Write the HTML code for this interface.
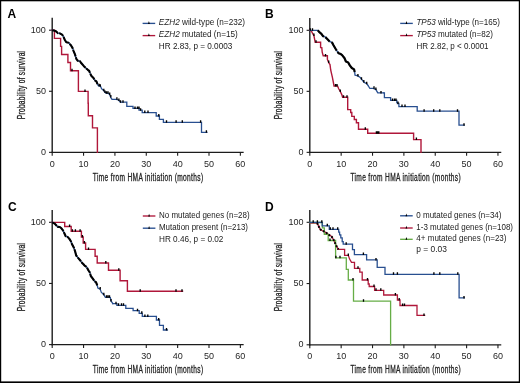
<!DOCTYPE html><html><head><meta charset="utf-8"><style>html,body{margin:0;padding:0;background:#fff}svg{display:block;will-change:transform}.tk{font-family:"Liberation Sans", sans-serif;font-size:9px;fill:#262626}.ti{font-family:"Liberation Sans", sans-serif;font-size:10px;fill:#222;stroke:#222;stroke-width:0.3px}.lg{font-family:"Liberation Sans", sans-serif;font-size:8.2px;fill:#222}.lb{font-family:"Liberation Sans", sans-serif;font-size:12px;font-weight:bold;fill:#000}</style></head><body>
<svg width="520" height="383" viewBox="0 0 520 383">
<rect x="0" y="0" width="520" height="383" fill="#fff"/>
<path d="M52.20 17.80V153.05" stroke="#1c1c1c" stroke-width="1.4" fill="none"/>
<path d="M51.50 152.35H243.66" stroke="#1c1c1c" stroke-width="1.3" fill="none"/>
<path d="M49.00 30.20H52.20" stroke="#1c1c1c" stroke-width="1.1" fill="none"/>
<path d="M49.00 91.27H52.20" stroke="#1c1c1c" stroke-width="1.1" fill="none"/>
<path d="M49.00 152.35H52.20" stroke="#1c1c1c" stroke-width="1.1" fill="none"/>
<path d="M52.20 152.35V155.75" stroke="#1c1c1c" stroke-width="1.1" fill="none"/>
<path d="M83.56 152.35V155.75" stroke="#1c1c1c" stroke-width="1.1" fill="none"/>
<path d="M114.92 152.35V155.75" stroke="#1c1c1c" stroke-width="1.1" fill="none"/>
<path d="M146.28 152.35V155.75" stroke="#1c1c1c" stroke-width="1.1" fill="none"/>
<path d="M177.64 152.35V155.75" stroke="#1c1c1c" stroke-width="1.1" fill="none"/>
<path d="M209.00 152.35V155.75" stroke="#1c1c1c" stroke-width="1.1" fill="none"/>
<path d="M240.36 152.35V155.75" stroke="#1c1c1c" stroke-width="1.1" fill="none"/>
<text x="45.90" y="32.70" text-anchor="end" class="tk">100</text>
<text x="45.90" y="93.77" text-anchor="end" class="tk">50</text>
<text x="45.90" y="154.85" text-anchor="end" class="tk">0</text>
<text x="52.20" y="166.55" text-anchor="middle" class="tk">0</text>
<text x="83.56" y="166.55" text-anchor="middle" class="tk">10</text>
<text x="114.92" y="166.55" text-anchor="middle" class="tk">20</text>
<text x="146.28" y="166.55" text-anchor="middle" class="tk">30</text>
<text x="177.64" y="166.55" text-anchor="middle" class="tk">40</text>
<text x="209.00" y="166.55" text-anchor="middle" class="tk">50</text>
<text x="240.36" y="166.55" text-anchor="middle" class="tk">60</text>
<text transform="translate(92.80 180.65) scale(0.66 1)" x="0" y="0" class="ti" textLength="167.12" lengthAdjust="spacing">Time from HMA initiation (months)</text>
<text transform="translate(24.50 119.20) rotate(-90) scale(0.66 1)" x="0" y="0" class="ti" textLength="103.48" lengthAdjust="spacing">Probability of survival</text>
<text x="7.50" y="17.90" class="lb">A</text>
<path d="M309.80 17.90V153.05" stroke="#1c1c1c" stroke-width="1.4" fill="none"/>
<path d="M309.10 152.35H501.26" stroke="#1c1c1c" stroke-width="1.3" fill="none"/>
<path d="M306.60 30.30H309.80" stroke="#1c1c1c" stroke-width="1.1" fill="none"/>
<path d="M306.60 91.33H309.80" stroke="#1c1c1c" stroke-width="1.1" fill="none"/>
<path d="M306.60 152.35H309.80" stroke="#1c1c1c" stroke-width="1.1" fill="none"/>
<path d="M309.80 152.35V155.75" stroke="#1c1c1c" stroke-width="1.1" fill="none"/>
<path d="M341.16 152.35V155.75" stroke="#1c1c1c" stroke-width="1.1" fill="none"/>
<path d="M372.52 152.35V155.75" stroke="#1c1c1c" stroke-width="1.1" fill="none"/>
<path d="M403.88 152.35V155.75" stroke="#1c1c1c" stroke-width="1.1" fill="none"/>
<path d="M435.24 152.35V155.75" stroke="#1c1c1c" stroke-width="1.1" fill="none"/>
<path d="M466.60 152.35V155.75" stroke="#1c1c1c" stroke-width="1.1" fill="none"/>
<path d="M497.96 152.35V155.75" stroke="#1c1c1c" stroke-width="1.1" fill="none"/>
<text x="303.50" y="32.80" text-anchor="end" class="tk">100</text>
<text x="303.50" y="93.83" text-anchor="end" class="tk">50</text>
<text x="303.50" y="154.85" text-anchor="end" class="tk">0</text>
<text x="309.80" y="166.55" text-anchor="middle" class="tk">0</text>
<text x="341.16" y="166.55" text-anchor="middle" class="tk">10</text>
<text x="372.52" y="166.55" text-anchor="middle" class="tk">20</text>
<text x="403.88" y="166.55" text-anchor="middle" class="tk">30</text>
<text x="435.24" y="166.55" text-anchor="middle" class="tk">40</text>
<text x="466.60" y="166.55" text-anchor="middle" class="tk">50</text>
<text x="497.96" y="166.55" text-anchor="middle" class="tk">60</text>
<text transform="translate(350.40 180.65) scale(0.66 1)" x="0" y="0" class="ti" textLength="167.12" lengthAdjust="spacing">Time from HMA initiation (months)</text>
<text transform="translate(282.10 119.30) rotate(-90) scale(0.66 1)" x="0" y="0" class="ti" textLength="103.48" lengthAdjust="spacing">Probability of survival</text>
<text x="265.00" y="17.90" class="lb">B</text>
<path d="M52.20 209.90V345.30" stroke="#1c1c1c" stroke-width="1.4" fill="none"/>
<path d="M51.50 344.60H243.66" stroke="#1c1c1c" stroke-width="1.3" fill="none"/>
<path d="M49.00 222.30H52.20" stroke="#1c1c1c" stroke-width="1.1" fill="none"/>
<path d="M49.00 283.45H52.20" stroke="#1c1c1c" stroke-width="1.1" fill="none"/>
<path d="M49.00 344.60H52.20" stroke="#1c1c1c" stroke-width="1.1" fill="none"/>
<path d="M52.20 344.60V348.00" stroke="#1c1c1c" stroke-width="1.1" fill="none"/>
<path d="M83.56 344.60V348.00" stroke="#1c1c1c" stroke-width="1.1" fill="none"/>
<path d="M114.92 344.60V348.00" stroke="#1c1c1c" stroke-width="1.1" fill="none"/>
<path d="M146.28 344.60V348.00" stroke="#1c1c1c" stroke-width="1.1" fill="none"/>
<path d="M177.64 344.60V348.00" stroke="#1c1c1c" stroke-width="1.1" fill="none"/>
<path d="M209.00 344.60V348.00" stroke="#1c1c1c" stroke-width="1.1" fill="none"/>
<path d="M240.36 344.60V348.00" stroke="#1c1c1c" stroke-width="1.1" fill="none"/>
<text x="45.90" y="224.80" text-anchor="end" class="tk">100</text>
<text x="45.90" y="285.95" text-anchor="end" class="tk">50</text>
<text x="45.90" y="347.10" text-anchor="end" class="tk">0</text>
<text x="52.20" y="358.80" text-anchor="middle" class="tk">0</text>
<text x="83.56" y="358.80" text-anchor="middle" class="tk">10</text>
<text x="114.92" y="358.80" text-anchor="middle" class="tk">20</text>
<text x="146.28" y="358.80" text-anchor="middle" class="tk">30</text>
<text x="177.64" y="358.80" text-anchor="middle" class="tk">40</text>
<text x="209.00" y="358.80" text-anchor="middle" class="tk">50</text>
<text x="240.36" y="358.80" text-anchor="middle" class="tk">60</text>
<text transform="translate(92.80 372.90) scale(0.66 1)" x="0" y="0" class="ti" textLength="167.12" lengthAdjust="spacing">Time from HMA initiation (months)</text>
<text transform="translate(24.50 311.30) rotate(-90) scale(0.66 1)" x="0" y="0" class="ti" textLength="103.48" lengthAdjust="spacing">Probability of survival</text>
<text x="7.90" y="210.60" class="lb">C</text>
<path d="M309.80 209.90V345.50" stroke="#1c1c1c" stroke-width="1.4" fill="none"/>
<path d="M309.10 344.80H501.26" stroke="#1c1c1c" stroke-width="1.3" fill="none"/>
<path d="M306.60 222.30H309.80" stroke="#1c1c1c" stroke-width="1.1" fill="none"/>
<path d="M306.60 283.55H309.80" stroke="#1c1c1c" stroke-width="1.1" fill="none"/>
<path d="M306.60 344.80H309.80" stroke="#1c1c1c" stroke-width="1.1" fill="none"/>
<path d="M309.80 344.80V348.20" stroke="#1c1c1c" stroke-width="1.1" fill="none"/>
<path d="M341.16 344.80V348.20" stroke="#1c1c1c" stroke-width="1.1" fill="none"/>
<path d="M372.52 344.80V348.20" stroke="#1c1c1c" stroke-width="1.1" fill="none"/>
<path d="M403.88 344.80V348.20" stroke="#1c1c1c" stroke-width="1.1" fill="none"/>
<path d="M435.24 344.80V348.20" stroke="#1c1c1c" stroke-width="1.1" fill="none"/>
<path d="M466.60 344.80V348.20" stroke="#1c1c1c" stroke-width="1.1" fill="none"/>
<path d="M497.96 344.80V348.20" stroke="#1c1c1c" stroke-width="1.1" fill="none"/>
<text x="303.50" y="224.80" text-anchor="end" class="tk">100</text>
<text x="303.50" y="286.05" text-anchor="end" class="tk">50</text>
<text x="303.50" y="347.30" text-anchor="end" class="tk">0</text>
<text x="309.80" y="359.00" text-anchor="middle" class="tk">0</text>
<text x="341.16" y="359.00" text-anchor="middle" class="tk">10</text>
<text x="372.52" y="359.00" text-anchor="middle" class="tk">20</text>
<text x="403.88" y="359.00" text-anchor="middle" class="tk">30</text>
<text x="435.24" y="359.00" text-anchor="middle" class="tk">40</text>
<text x="466.60" y="359.00" text-anchor="middle" class="tk">50</text>
<text x="497.96" y="359.00" text-anchor="middle" class="tk">60</text>
<text transform="translate(350.40 373.10) scale(0.66 1)" x="0" y="0" class="ti" textLength="167.12" lengthAdjust="spacing">Time from HMA initiation (months)</text>
<text transform="translate(282.10 311.30) rotate(-90) scale(0.66 1)" x="0" y="0" class="ti" textLength="103.48" lengthAdjust="spacing">Probability of survival</text>
<text x="264.90" y="210.60" class="lb">D</text>
<path d="M52.2 30.2 H54.4 V38.4 H60.6 V46.4 H61.6 V54.5 H67.9 V62.5 H70.5 V70.7 H78.4 V91.4 H88.1 V103.3 H88.3 V115.7 H92.5 V127.9 H97.4 V152.3" stroke="#b0173a" stroke-width="1.4" fill="none" stroke-linejoin="miter" stroke-linecap="square"/>
<path d="M52.2 30.2 L53.9 30.5 L55.9 31.2 L57.8 33.1 L59.8 33.3 L62.1 34.6 L63.4 36.5 L64.7 39.7 L66.3 42.2 L68.6 42.7 L70.9 45.3 L72.5 47.9 L73.5 50.9 L74.9 54.2 L76.5 59.2 L77.8 60.8 L79.8 61 L81.4 63.3 L83.7 65.9 L86.3 68.5 L87.8 69.8 L89.2 70.9 L90.2 73.5 L91.5 76.1 L93.5 78 L94.8 80.3 L96.4 81.3 L97.7 84.6 L97.7 84.6 L98.5 85.8 L100.5 86.3 L101.6 88.8 L103.9 90.8 L105.8 93.1 L108.4 93.4 L109.7 94.7 L110.7 97.3 L112 99.3 L116.3 99.3 L118.2 99.9 L119.9 101.6 L120.8 102.2" stroke="#284f90" stroke-width="1.3" fill="none" stroke-linejoin="round" stroke-linecap="round" />
<path d="M52.2 30.2 L53.9 30.5 L55.9 31.2 L57.8 33.1 L59.8 33.3 L62.1 34.6 L63.4 36.5 L64.7 39.7 L66.3 42.2 L68.6 42.7 L70.9 45.3 L72.5 47.9 L73.5 50.9 L74.9 54.2 L76.5 59.2 L77.8 60.8 L79.8 61 L81.4 63.3 L83.7 65.9 L86.3 68.5 L87.8 69.8 L89.2 70.9 L90.2 73.5 L91.5 76.1 L93.5 78 L94.8 80.3 L96.4 81.3 L97.7 84.6" stroke="#000" stroke-width="2.1" fill="none" stroke-linejoin="round" stroke-linecap="butt" stroke-dasharray="7 0.9 5 1 9 0.9 6 1"/>
<path d="M120.8 102.2 H126.8 V106.4 H133 V108.4 H139 V110.2 H142.2 V112.6 H156.2 V116 H159.4 V119.4 H163.4 V122.3 H201.5 V132.3 H206.9" stroke="#284f90" stroke-width="1.3" fill="none" stroke-linejoin="miter" stroke-linecap="square"/>
<path d="M99 86.3V83.8M100.3 86.8V84.3M103.8 91.3V88.8M105 93.0V90.5M106.5 93.7V91.2M108 93.8V91.3M109.7 95.1V92.6M110.8 97.5V95.0M116.9 99.8V97.3M118.9 101.0V98.5M120.5 102.7V100.2" stroke="#000" stroke-width="1.35" fill="none"/>
<path d="M123 102.7V100.2M135 108.9V106.4M137.5 108.9V106.4M139 108.9V106.4M140.6 110.7V108.2M144.8 113.1V110.6M148 113.1V110.6M158.8 116.5V114.0M166.5 122.8V120.3M176.1 122.8V120.3M182.3 122.8V120.3M200.6 122.8V120.3M206.4 132.8V130.3" stroke="#000" stroke-width="1.35" fill="none"/>
<path d="M72 71.2V68.7M85 91.9V89.4" stroke="#000" stroke-width="1.35" fill="none"/>
<path d="M142.60 23.40H155.20" stroke="#284f90" stroke-width="1.35" fill="none"/>
<path d="M148.00 23.90L148.90 21.10L149.80 23.90Z" fill="#000"/>
<text x="158.80" y="25.10" class="lg"><tspan font-style="italic">EZH2</tspan> wild-type (n=232)</text>
<path d="M142.60 35.60H155.20" stroke="#b0173a" stroke-width="1.35" fill="none"/>
<path d="M148.00 36.10L148.90 33.30L149.80 36.10Z" fill="#000"/>
<text x="158.80" y="37.30" class="lg"><tspan font-style="italic">EZH2</tspan> mutated (n=15)</text>
<text x="158.80" y="49.40" class="lg">HR 2.83, p = 0.0003</text>
<path d="M309.8 30.3 L311.3 30.9 L312.6 33.5 L313.9 35.5 L315.2 42.3 H320.6 V47.6 H321.8 L322.2 52.2 L323.2 55.8 H327.4 V59.4 L328.7 62.6 L330 64.6 L330.7 70 L331.3 72.7 L332.4 77.4 L333.6 83.7 L334 86 H337.5 L338.7 88.8 L340.3 91.5 L341.8 94.6 L342.6 97.3 H347.7 V109.6 H350.7 V112.5 H351.8 V116.4 H354.3 V119.5 H356.4 V122.7 H358.5 V129.3 H367.7 V133.3 H413.6 V139.6 H421 V152.3" stroke="#b0173a" stroke-width="1.4" fill="none" stroke-linejoin="miter" stroke-linecap="square"/>
<path d="M313.9 36.0V33.5M316 42.8V40.3M325.5 56.5V54.0M328.7 63.1V60.6M335.5 86.5V84.0M337 86.5V84.0M340.3 92.0V89.5M343.5 97.8V95.3M347 97.8V95.3M365.3 129.8V127.30000000000001M376.4 133.8V131.3M377.6 133.8V131.3M378.8 133.8V131.3M416.4 140.1V137.6" stroke="#000" stroke-width="1.35" fill="none"/>
<path d="M309.8 30.3 L317.8 30.3 L319.1 31.9 L321.4 33.8 L323 36.1 L325 36.8 L327 38.7 L329.6 41.4 L332.2 42.7 L333.5 45.3 L335.4 48.5 L336.9 50.9 L338.5 53.2 L340.8 54.1 L342.1 55.1 L344.6 58.3 L345.9 61.5 L348.2 62.5 L349.8 65.4 L351.8 68 L354.1 69.4 L354.7 72 L354.7 72 L355 75.2 L357.9 75.9 L359.9 77.2 L361.5 79.2 L363.8 82.1 L366.7 83.7 L368.4 86 L369.7 88.3 L373.3 88.3 L375.9 89.6 L377.8 92.9 L383.9 92.9" stroke="#284f90" stroke-width="1.3" fill="none" stroke-linejoin="round" stroke-linecap="round" />
<path d="M317.8 30.3 L319.1 31.9 L321.4 33.8 L323 36.1 L325 36.8 L327 38.7 L329.6 41.4 L332.2 42.7 L333.5 45.3 L335.4 48.5 L336.9 50.9 L338.5 53.2 L340.8 54.1 L342.1 55.1 L344.6 58.3 L345.9 61.5 L348.2 62.5 L349.8 65.4 L351.8 68 L354.1 69.4 L354.7 72" stroke="#000" stroke-width="2.2" fill="none" stroke-linejoin="round" stroke-linecap="butt" stroke-dasharray="9 1.5 6 2 10 1.5 30"/>
<path d="M383.9 92.9 H384.4 V97.7 H390.6 V100.4 H396.8 V102.4 H397.4 V103.5 H398.9 V106.6 H417.2 V111.2 H459 V125.2 H464.2" stroke="#284f90" stroke-width="1.3" fill="none" stroke-linejoin="miter" stroke-linecap="square"/>
<path d="M310.3 30.8V28.3M312.5 30.8V28.3M357.9 76.4V73.9M361.5 79.7V77.2M363.8 82.6V80.1M366.7 84.2V81.7M374 88.8V86.3M375.9 90.1V87.6M381 93.4V90.9" stroke="#000" stroke-width="1.35" fill="none"/>
<path d="M392.5 100.9V98.4M394.5 100.9V98.4M396 100.9V98.4M398 104.0V101.5M402 107.1V104.6M405 107.1V104.6M424.1 111.7V109.2M433.7 111.7V109.2M439.8 111.7V109.2M457.5 111.7V109.2M464 125.7V123.2" stroke="#000" stroke-width="1.35" fill="none"/>
<path d="M400.20 23.40H412.80" stroke="#284f90" stroke-width="1.35" fill="none"/>
<path d="M405.60 23.90L406.50 21.10L407.40 23.90Z" fill="#000"/>
<text x="416.40" y="25.10" class="lg" textLength="83.5" lengthAdjust="spacingAndGlyphs"><tspan font-style="italic">TP53</tspan> wild-type (n=165)</text>
<path d="M400.20 35.60H412.80" stroke="#b0173a" stroke-width="1.35" fill="none"/>
<path d="M405.60 36.10L406.50 33.30L407.40 36.10Z" fill="#000"/>
<text x="416.40" y="37.30" class="lg" textLength="76.6" lengthAdjust="spacingAndGlyphs"><tspan font-style="italic">TP53</tspan> mutated (n=82)</text>
<text x="416.40" y="49.40" class="lg" textLength="72.2" lengthAdjust="spacingAndGlyphs">HR 2.82, p &lt; 0.0001</text>
<path d="M52.2 222.4 H64.7 V226.5 H71.2 V231.2 H81.4 V237 H83.2 V243 H85.6 V249.4 H95.1 V256.2 H97.2 V263 H108.5 V270.2 H120.1 V280.8 H127.4 V291.3 H182.5" stroke="#b0173a" stroke-width="1.4" fill="none" stroke-linejoin="miter" stroke-linecap="square"/>
<path d="M52.2 222.3 L54.6 223.6 L56.2 225.2 L57.8 226.9 L59.8 227 L61.4 228.3 L63 230.4 L64.7 234 L65.7 236.2 L67.6 236.9 L69.2 238.6 L70.9 241.3 L71.9 243.9 L73.9 247.8 L75.2 251.7 L76.2 255.5 L78.1 257.9 L80.1 260.2 L81.7 262.5 L83.7 264.5 L84.6 265.6 L86.6 266.9 L88.5 270.5 L89.8 272.4 L90.8 276 L92.8 278.6 L94.7 281.4 L96 282.2 L97.3 285.5 L97.3 285.5 L97.9 288.2 L100.2 289.1 L101.2 292.1 L103.8 294.7 L105.4 297.3 L110.3 297.3 L111 300.9 L112.9 303.7" stroke="#284f90" stroke-width="1.3" fill="none" stroke-linejoin="round" stroke-linecap="round" />
<path d="M52.2 222.3 L54.6 223.6 L56.2 225.2 L57.8 226.9 L59.8 227 L61.4 228.3 L63 230.4 L64.7 234 L65.7 236.2 L67.6 236.9 L69.2 238.6 L70.9 241.3 L71.9 243.9 L73.9 247.8 L75.2 251.7 L76.2 255.5 L78.1 257.9 L80.1 260.2 L81.7 262.5 L83.7 264.5 L84.6 265.6 L86.6 266.9 L88.5 270.5 L89.8 272.4 L90.8 276 L92.8 278.6 L94.7 281.4 L96 282.2 L97.3 285.5" stroke="#000" stroke-width="2.1" fill="none" stroke-linejoin="round" stroke-linecap="butt" stroke-dasharray="6 0.9 8 1 5 0.9 7 1"/>
<path d="M112.9 303.7 H116.9 V305.3 H125.8 V308.4 H133.1 V310.7 H139.2 V313.3 H142.3 V316.4 H156.4 V320 H159.5 V325.3 H163.4 V330 H167.4" stroke="#284f90" stroke-width="1.3" fill="none" stroke-linejoin="miter" stroke-linecap="square"/>
<path d="M100.2 289.6V287.1M103.8 295.2V292.7M106.5 297.8V295.3M108 297.8V295.3M109.5 297.8V295.3M111 301.4V298.9" stroke="#000" stroke-width="1.35" fill="none"/>
<path d="M116 304.2V301.7M118.5 305.8V303.3M121.5 305.8V303.3M123.5 305.8V303.3M137.5 311.2V308.7M141.8 313.8V311.3M144.9 316.9V314.4M147.8 316.9V314.4M158.7 320.5V318.0M166.5 330.5V328.0" stroke="#000" stroke-width="1.35" fill="none"/>
<path d="M69.6 227.0V224.5M72.4 231.7V229.2M75.4 231.7V229.2M80.1 231.7V229.2M82.4 237.5V235.0M84.4 243.5V241.0M88.5 249.9V247.4M105.8 263.5V261.0M118.8 270.7V268.2M140.2 291.8V289.3M176 291.8V289.3M182 291.8V289.3" stroke="#000" stroke-width="1.35" fill="none"/>
<path d="M142.80 216.00H155.40" stroke="#b0173a" stroke-width="1.35" fill="none"/>
<path d="M148.20 216.50L149.10 213.70L150.00 216.50Z" fill="#000"/>
<text x="159.00" y="217.70" class="lg" textLength="90.6" lengthAdjust="spacingAndGlyphs">No mutated genes (n=28)</text>
<path d="M142.80 228.20H155.40" stroke="#284f90" stroke-width="1.35" fill="none"/>
<path d="M148.20 228.70L149.10 225.90L150.00 228.70Z" fill="#000"/>
<text x="159.00" y="229.90" class="lg" textLength="89.0" lengthAdjust="spacingAndGlyphs">Mutation present (n=213)</text>
<text x="159.00" y="241.90" class="lg">HR 0.46, p = 0.02</text>
<path d="M309.8 223.0 L317.1 223.0 L319 226.9 L320.5 229.6 L322.1 230.5 L324.3 231.6 L326.7 233.1 L328.4 234.6 L331.5 236.3 L333.7 240 L336.3 245.8 L338.4 249.4" stroke="#b0173a" stroke-width="1.3" fill="none" stroke-linejoin="round" stroke-linecap="round" />
<path d="M338.4 249.4 H344.6 V255.4 H348.3 L349.6 259.1 L351.5 262.4 H354.5 V268.3 H359.8 V272.2 H362.2 V280 H368.2 V284 H369.2 V286.5 H374.6 V290.3 H383.7 V295 H397.4 V300 H400 V305.5 H417 V315.4 H424.6" stroke="#b0173a" stroke-width="1.3" fill="none" stroke-linejoin="miter" stroke-linecap="square"/>
<path d="M309.8 222.5 H322.4 V227.8 H324.3 V234.3 H328.2 V240.5 H335.6 V257.8 H346.3 V269.3 H348.3 V280 H353.5 V301.2 H390.6 V344.8" stroke="#66ad46" stroke-width="1.3" fill="none" stroke-linejoin="miter" stroke-linecap="square"/>
<path d="M309.8 222.3 H322.2 V225.8 H329.3 V229.3 H338.7 V232.2 H339.6 V234.8 H340.8 V237.9 H342.2 V241.6 H343.2 V244.2 H352.5 V249.6 H354.4 V254.6 H366.6 V259.9 H377.2 V267.4 H385 V274.3 H459.1 V297.9 H464.3" stroke="#284f90" stroke-width="1.3" fill="none" stroke-linejoin="miter" stroke-linecap="square"/>
<path d="M317.1 223.0 L319 226.9 L320.5 229.6 L322.1 230.5 L324.3 231.6 L326.7 233.1 L328.4 234.6 L331.5 236.3 L333.7 240 L336.3 245.8 L338.4 249.4" stroke="#000" stroke-width="2.0" fill="none" stroke-linejoin="round" stroke-linecap="butt" stroke-dasharray="1.8 1.6"/>
<path d="M330 241.0V238.5M335.9 258.3V255.8M340 258.3V255.8M353 280.5V278.0M363.5 301.7V299.2" stroke="#000" stroke-width="1.35" fill="none"/>
<path d="M313.2 222.8V220.3M317.4 222.8V220.3M321.8 222.8V220.3M327.3 226.3V223.8M330.3 229.8V227.3M333 229.8V227.3M337.7 229.8V227.3M346.2 244.7V242.2M363.4 255.1V252.6M376 260.4V257.9M393.5 274.8V272.3M397.4 274.8V272.3M433.9 274.8V272.3M439.8 274.8V272.3M457.8 274.8V272.3M464 298.4V295.9" stroke="#000" stroke-width="1.35" fill="none"/>
<path d="M348.3 255.9V253.4M358 268.8V266.3M367.5 280.5V278.0M374 287.0V284.5M376 290.8V288.3M380.8 290.8V288.3M395.4 295.5V293.0M399.2 300.5V298.0M402.6 306.0V303.5M404.5 306.0V303.5M424 315.9V313.4" stroke="#000" stroke-width="1.35" fill="none"/>
<path d="M400.10 215.80H412.70" stroke="#284f90" stroke-width="1.35" fill="none"/>
<path d="M405.50 216.30L406.40 213.50L407.30 216.30Z" fill="#000"/>
<text x="416.30" y="217.50" class="lg" textLength="85.2" lengthAdjust="spacingAndGlyphs">0 mutated genes (n=34)</text>
<path d="M400.10 228.00H412.70" stroke="#b0173a" stroke-width="1.35" fill="none"/>
<path d="M405.50 228.50L406.40 225.70L407.30 228.50Z" fill="#000"/>
<text x="416.30" y="229.70" class="lg" textLength="96.7" lengthAdjust="spacingAndGlyphs">1-3 mutated genes (n=108)</text>
<path d="M400.10 239.30H412.70" stroke="#66ad46" stroke-width="1.35" fill="none"/>
<path d="M405.50 239.80L406.40 237.00L407.30 239.80Z" fill="#000"/>
<text x="416.30" y="241.00" class="lg" textLength="90.2" lengthAdjust="spacingAndGlyphs">4+ mutated genes (n=23)</text>
<text x="416.30" y="252.40" class="lg" textLength="30.7" lengthAdjust="spacingAndGlyphs">p = 0.03</text>
<rect x="0" y="0" width="520" height="1.3" fill="#000"/><rect x="0" y="0" width="1.2" height="383" fill="#000"/><rect x="518.8" y="0" width="1.2" height="383" fill="#000"/><rect x="0" y="381.4" width="520" height="1.6" fill="#000"/>
</svg></body></html>
